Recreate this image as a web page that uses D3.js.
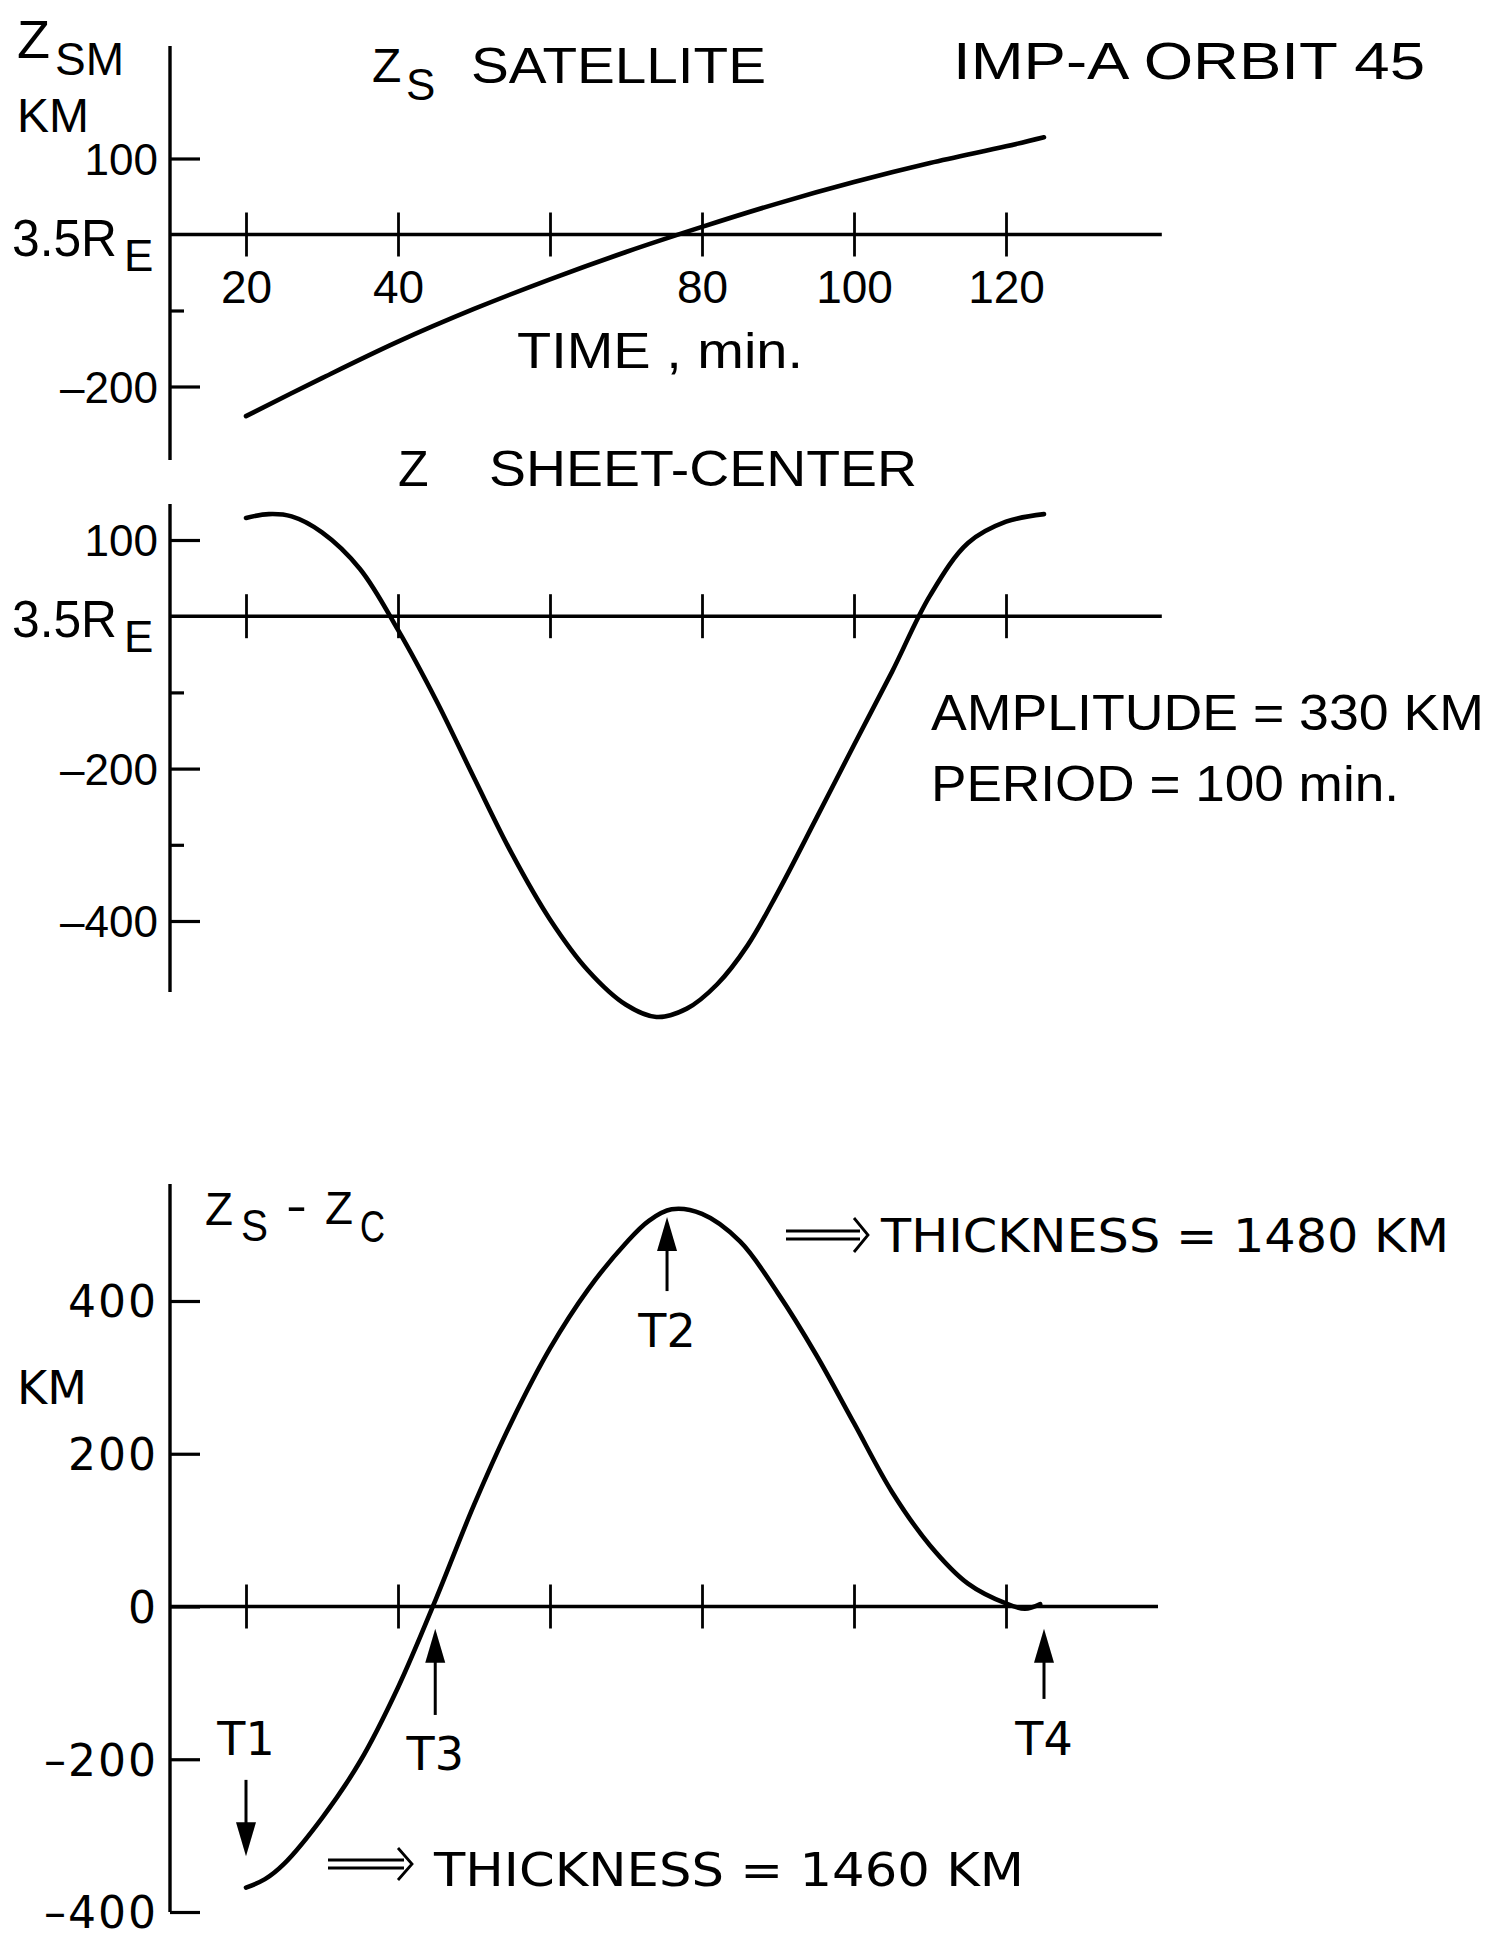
<!DOCTYPE html>
<html>
<head>
<meta charset="utf-8">
<script src="https://cdn.jsdelivr.net/npm/d3@7"></script>
<style>
  body { margin: 0; background: #fff; }
  svg { display: block; }
  text { fill: #000; }
</style>
</head>
<body>
<div id="chart"></div>
<script>
// values: time in min, heights in km
const satTime = [20, 30, 40, 50, 60, 70, 80, 90, 100, 110, 120, 125];
const satZ = [-239, -189, -141, -98, -59, -23, 10, 41, 69, 94, 116, 128];

const sheetTime = [20, 23, 26, 30, 35, 40, 45, 50, 55, 60, 65, 70, 74, 78, 82, 86, 90, 95, 100, 105, 110, 115, 120, 125];
const sheetZ = [129, 134, 131, 110, 62, -18, -110, -212, -312, -398, -465, -510, -526, -515, -483, -432, -362, -266, -169, -73, 27, 96, 124, 134];

const diffTime = [20, 22.5, 25, 30, 35, 40, 45, 50, 55, 60, 65, 70, 73, 76, 80, 85, 90, 95, 100, 105, 110, 115, 120, 122.5, 124.5];
const diffZ = [-368, -357, -337, -277, -203, -106, 10, 133, 243, 338, 415, 476, 505, 520, 514, 478, 410, 330, 240, 150, 80, 30, 4, -3, 3];

const timeTicks = [20, 40, 60, 80, 100, 120];
const timeLabels = ["20", "40", "", "80", "100", "120"];
const satTicks = [100, -200];
const satMinor = [-100];
const sheetTicks = [100, -200, -400];
const sheetMinor = [-100, -300];
const diffTicks = [400, 200, 0, -200, -400];

const markerNames = ["T1", "T2", "T3", "T4"];
const markerTime = [20, 75.4, 44.9, 125];

const width = 1499, height = 1938;
const fontA = "'Liberation Sans', Arial, sans-serif";
const fontB = "'DejaVu Sans', Verdana, sans-serif";

const svg = d3.select("#chart")
    .append("svg")
        .attr("width", width)
        .attr("height", height)
        .attr("viewBox", `0 0 ${width} ${height}`);

const x = d3.scaleLinear().domain([20, 120]).range([246, 1006]);
const axisStart = 10;

const fmt = d => d < 0 ? "–" + Math.abs(d) : String(d);

const line = (y) => d3.line()
    .x(d => x(d.t))
    .y(d => y(d.z))
    .curve(d3.curveCatmullRom.alpha(0.5));

const drawPanel = (p) => {
    const g = svg.append("g");

    // vertical axis
    g.append("line")
        .attr("x1", x(axisStart)).attr("x2", x(axisStart))
        .attr("y1", p.top).attr("y2", p.bottom)
        .attr("stroke", "#000").attr("stroke-width", 3.4);

    const yAxis = g.append("g")
        .attr("transform", `translate(${x(axisStart)},0)`)
        .call(d3.axisLeft(p.y)
            .tickValues(p.ticks)
            .tickSizeInner(-30)
            .tickSizeOuter(0)
            .tickPadding(12)
            .tickFormat(fmt));
    yAxis.select(".domain").remove();
    yAxis.selectAll("line").attr("stroke", "#000").attr("stroke-width", 3.2);
    yAxis.selectAll("text")
        .attr("font-family", p.font)
        .attr("font-size", p.tickFont)
        .attr("letter-spacing", p.tickSpacing)
        .attr("fill", "#000")
        .attr("dy", "0.36em");

    if (p.minor.length) {
        const minorAxis = g.append("g")
            .attr("transform", `translate(${x(axisStart)},0)`)
            .call(d3.axisLeft(p.y).tickValues(p.minor).tickSizeInner(-14).tickSizeOuter(0).tickFormat(""));
        minorAxis.select(".domain").remove();
        minorAxis.selectAll("line").attr("stroke", "#000").attr("stroke-width", 3.2);
    }

    // horizontal axis at zero
    g.append("line")
        .attr("x1", x(axisStart)).attr("x2", x(p.end))
        .attr("y1", p.y(0)).attr("y2", p.y(0))
        .attr("stroke", "#000").attr("stroke-width", 3.4);

    const xAxis = g.append("g")
        .attr("transform", `translate(0,${p.y(0) - 22})`)
        .call(d3.axisBottom(x)
            .tickValues(timeTicks)
            .tickSizeInner(44)
            .tickSizeOuter(0)
            .tickPadding(14)
            .tickFormat((d, i) => p.timeLabels ? timeLabels[i] : ""));
    xAxis.select(".domain").remove();
    xAxis.selectAll("line").attr("stroke", "#000").attr("stroke-width", 2.8);
    xAxis.selectAll("text")
        .attr("font-family", fontA)
        .attr("font-size", 46)
        .attr("fill", "#000");

    const data = p.time.map((t, i) => ({ t: t, z: p.z[i] }));
    g.append("path")
        .datum(data)
        .attr("d", line(p.y))
        .attr("fill", "none")
        .attr("stroke", "#000")
        .attr("stroke-width", 4.6)
        .attr("stroke-linecap", "round")
        .attr("stroke-linejoin", "round");

    if (p.zeroLabel) {
        g.append("text")
            .attr("x", 12)
            .attr("y", p.y(0) + 21)
            .attr("font-family", fontA)
            .attr("font-size", 52)
            .attr("textLength", 105)
            .attr("lengthAdjust", "spacingAndGlyphs")
            .text("3.5R");
        g.append("text")
            .attr("x", 124)
            .attr("y", p.y(0) + 36)
            .attr("font-family", fontA)
            .attr("font-size", 44)
            .text("E");
    }
    return g;
};

const p1 = { y: d3.scaleLinear().domain([-200, 100]).range([386.5, 158.5]), top: 46, bottom: 460,
    ticks: satTicks, minor: satMinor, time: satTime, z: satZ, timeLabels: true, zeroLabel: true,
    end: 140.5, font: fontA, tickFont: 44, tickSpacing: 0 };
const p2 = { y: d3.scaleLinear().domain([-400, 100]).range([921, 540]), top: 504, bottom: 992,
    ticks: sheetTicks, minor: sheetMinor, time: sheetTime, z: sheetZ, timeLabels: false, zeroLabel: true,
    end: 140.5, font: fontA, tickFont: 44, tickSpacing: 0 };
const p3 = { y: d3.scaleLinear().domain([-400, 400]).range([1912, 1301]), top: 1184, bottom: 1912,
    ticks: diffTicks, minor: [], time: diffTime, z: diffZ, timeLabels: false, zeroLabel: false,
    end: 140, font: fontB, tickFont: 44, tickSpacing: 2 };

[p1, p2, p3].forEach(drawPanel);

// labels
const label = (txt, xPos, yPos, size, font, len) => {
    const t = svg.append("text")
        .attr("x", xPos).attr("y", yPos)
        .attr("font-family", font)
        .attr("font-size", size)
        .text(txt);
    if (len) t.attr("textLength", len).attr("lengthAdjust", "spacingAndGlyphs");
    return t;
};

// Z_SM / KM
label("Z", 17, 58, 54, fontA);
label("SM", 55, 75, 46, fontA);
label("KM", 17, 132, 48, fontA);

// Z_S SATELLITE
label("Z", 372, 82, 48, fontA);
label("S", 406, 100, 44, fontA);
label("SATELLITE", 471, 83, 50, fontA, 295);
label("IMP-A ORBIT 45", 953, 79, 51, fontA, 472);
label("TIME , min.", 517, 368, 50, fontA, 286);

// Z SHEET-CENTER
label("Z", 398, 486, 50, fontA);
label("SHEET-CENTER", 489, 486, 50, fontA, 428);
label("AMPLITUDE = 330 KM", 931, 730, 50, fontA, 553);
label("PERIOD = 100 min.", 931, 801, 50, fontA, 468);

// Zs - Zc
label("Z", 205, 1225, 47, fontA, 28);
label("S", 241, 1241, 45, fontA, 27);
label("-", 286, 1222, 46, fontA, 21);
label("Z", 325, 1224, 47, fontA, 28);
label("C", 360, 1242, 45, fontA, 25);
label("KM", 17, 1404, 46, fontB);

const doubleArrow = (x0, x1, yc, h) => {
    svg.append("path")
        .attr("d", `M${x0},${yc - 4}H${x1 - 8}M${x0},${yc + 4}H${x1 - 8}M${x1 - 14},${yc - h}L${x1},${yc}L${x1 - 14},${yc + h}`)
        .attr("fill", "none")
        .attr("stroke", "#000")
        .attr("stroke-width", 2.8);
};
doubleArrow(786, 868, 1235, 17);
label("THICKNESS = 1480 KM", 881, 1252, 46, fontB, 568);
doubleArrow(328, 412, 1864, 16);
label("THICKNESS = 1460 KM", 434, 1886, 46, fontB, 590);

// T markers
const y3 = p3.y;
const markerTail = [-227, 413, -142, -121];
const markerTip = [-327, 510, -29, -29];
const markerLabel = [-195, 340, -214, -195];

markerNames.forEach((name, i) => {
    const mx = x(markerTime[i]);
    const tail = y3(markerTail[i]);
    const tip = y3(markerTip[i]);
    const dir = tip > tail ? 1 : -1;
    const headLen = 34, headW = 10;
    svg.append("line")
        .attr("x1", mx).attr("x2", mx)
        .attr("y1", tail).attr("y2", tip - dir * headLen * 0.6)
        .attr("stroke", "#000").attr("stroke-width", 3);
    svg.append("path")
        .attr("d", `M${mx},${tip}L${mx - headW},${tip - dir * headLen}L${mx + headW},${tip - dir * headLen}Z`)
        .attr("fill", "#000");
    svg.append("text")
        .attr("x", mx)
        .attr("y", y3(markerLabel[i]))
        .attr("text-anchor", "middle")
        .attr("font-family", fontB)
        .attr("font-size", 46)
        .text(name);
});
</script>
</body>
</html>
